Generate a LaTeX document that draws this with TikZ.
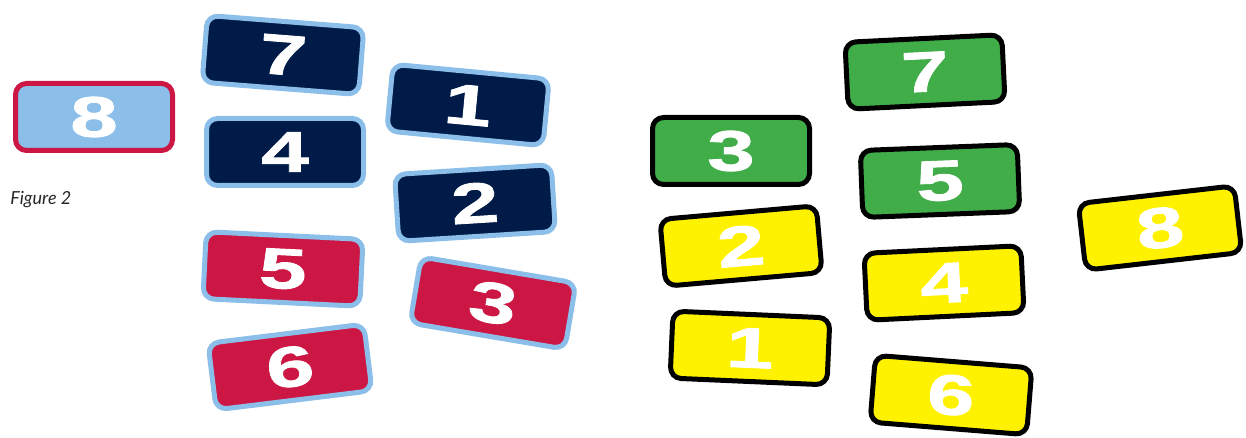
\documentclass[tikz,border=0pt]{standalone}
\usepackage{fontspec}
\newfontfamily\cardfont[FakeStretch=1.5,FakeBold=1.5]{Liberation Sans Bold}
\newfontfamily\capfont{Lato}
\definecolor{navy}{HTML}{001B48}
\definecolor{paleblue}{HTML}{8BBEE8}
\definecolor{cardred}{HTML}{CC1744}
\definecolor{cardgreen}{HTML}{41AD49}
\definecolor{cardyellow}{HTML}{FFF200}

\begin{document}
\begin{tikzpicture}[
        x=0.5pt, y=-0.5pt,
        tile/.style={rounded corners=5.5pt, line width=2.5pt,
            minimum width=78.5pt, minimum height=33.5pt, inner sep=0pt,
            font=\cardfont\fontsize{28.5}{29}\selectfont, text=white},
        navytile/.style={tile, draw=paleblue, fill=navy},
        redtile/.style={tile, draw=paleblue, fill=cardred},
        greentile/.style={tile, draw=black, fill=cardgreen},
        yellowtile/.style={tile, draw=black, fill=cardyellow}
    ]
    \useasboundingbox (0,0) rectangle (1246,438);

    % left group
    \node[tile, draw=cardred, fill=paleblue] (lone8) at (94,117) {8};
    \node[navytile, rotate=-4.5] (navy7) at (283,55) {7};
    \node[navytile] (navy4) at (285,152) {4};
    \node[navytile, rotate=-5.4] (navy1) at (468,105) {1};
    \node[navytile, rotate=3.6] (navy2) at (475,203) {2};
    \node[redtile, rotate=-2.8] (red5) at (283,269) {5};
    \node[redtile, rotate=-9.6] (red3) at (493,303) {3};
    \node[redtile, rotate=7] (red6) at (290,367) {6};
    \node[font=\capfont\itshape\fontsize{9}{10}\selectfont, text=black!85,
        inner sep=0pt, anchor=west] (caption) at (10,200) {Figure 2};

    % right group
    \node[greentile, rotate=2.8] (green7) at (925,72) {7};
    \node[greentile] (green3) at (731,151) {3};
    \node[greentile, rotate=2.2] (green5) at (940,181) {5};
    \node[yellowtile, rotate=5] (yellow2) at (741,246) {2};
    \node[yellowtile, rotate=2.8] (yellow4) at (944,283) {4};
    \node[yellowtile, rotate=-2.5] (yellow1) at (750,348) {1};
    \node[yellowtile, rotate=-4.6] (yellow6) at (951,395) {6};
    \node[yellowtile, rotate=6.5] (yellow8) at (1160,228) {8};
\end{tikzpicture}
\end{document}
